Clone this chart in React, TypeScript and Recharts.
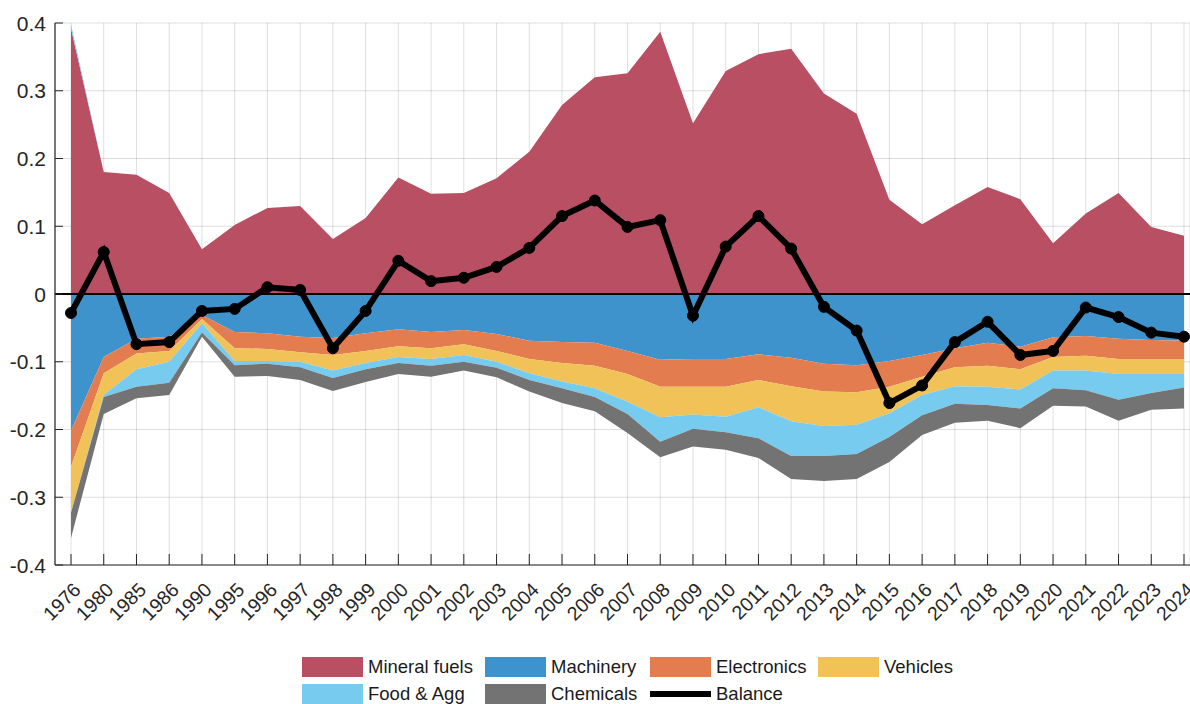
import {
  ComposedChart,
  Area,
  Line,
  XAxis,
  YAxis,
  CartesianGrid,
  ReferenceLine,
  Legend,
} from "recharts";

const years = [
  "1976", "1980", "1985", "1986", "1990",
  "1995", "1996", "1997", "1998", "1999", "2000", "2001", "2002", "2003", "2004",
  "2005", "2006", "2007", "2008", "2009", "2010", "2011", "2012", "2013", "2014",
  "2015", "2016", "2017", "2018", "2019", "2020", "2021", "2022", "2023", "2024",
];

const mineralFuels = [
  0.392, 0.18, 0.176, 0.149, 0.066,
  0.102, 0.127, 0.13, 0.081, 0.112, 0.172, 0.148, 0.149, 0.171, 0.21,
  0.279, 0.32, 0.326, 0.387, 0.252, 0.329, 0.354, 0.362, 0.296, 0.266,
  0.139, 0.103, 0.131, 0.158, 0.14, 0.075, 0.119, 0.149, 0.099, 0.086,
];

const machinery = [
  -0.202, -0.093, -0.066, -0.063, -0.031,
  -0.056, -0.058, -0.063, -0.065, -0.058, -0.052, -0.056, -0.053, -0.059, -0.069,
  -0.071, -0.072, -0.084, -0.097, -0.096, -0.096, -0.089, -0.094, -0.103, -0.105,
  -0.099, -0.09, -0.08, -0.072, -0.078, -0.064, -0.062, -0.066, -0.068, -0.069,
];

const electronics = [
  -0.053, -0.024, -0.022, -0.021, -0.006,
  -0.024, -0.023, -0.023, -0.025, -0.026, -0.025, -0.024, -0.021, -0.025, -0.027,
  -0.031, -0.034, -0.034, -0.04, -0.041, -0.041, -0.038, -0.042, -0.041, -0.04,
  -0.038, -0.032, -0.028, -0.034, -0.033, -0.029, -0.029, -0.03, -0.028, -0.027,
];

const vehicles = [
  -0.068, -0.032, -0.023, -0.016, -0.006,
  -0.019, -0.018, -0.014, -0.023, -0.018, -0.016, -0.016, -0.016, -0.016, -0.021,
  -0.027, -0.033, -0.041, -0.045, -0.041, -0.044, -0.04, -0.052, -0.051, -0.048,
  -0.039, -0.027, -0.028, -0.031, -0.03, -0.02, -0.022, -0.022, -0.022, -0.022,
];

const foodAgg = [
  0.006, -0.003, -0.026, -0.031, -0.014,
  -0.006, -0.004, -0.008, -0.011, -0.009, -0.009, -0.01, -0.01, -0.009, -0.01,
  -0.01, -0.013, -0.018, -0.036, -0.021, -0.023, -0.046, -0.051, -0.044, -0.043,
  -0.035, -0.03, -0.026, -0.027, -0.028, -0.026, -0.029, -0.038, -0.028, -0.02,
];

const chemicals = [
  -0.037, -0.025, -0.017, -0.018, -0.006,
  -0.017, -0.018, -0.019, -0.019, -0.019, -0.016, -0.016, -0.013, -0.014, -0.017,
  -0.022, -0.021, -0.028, -0.023, -0.026, -0.026, -0.029, -0.034, -0.037, -0.037,
  -0.037, -0.029, -0.028, -0.023, -0.029, -0.026, -0.024, -0.031, -0.025, -0.031,
];

const balance = [
  -0.028, 0.062, -0.074, -0.071, -0.025,
  -0.022, 0.01, 0.006, -0.08, -0.025, 0.049, 0.019, 0.024, 0.04, 0.068,
  0.115, 0.138, 0.099, 0.109, -0.032, 0.07, 0.115, 0.067, -0.019, -0.054,
  -0.161, -0.135, -0.071, -0.041, -0.09, -0.084, -0.02, -0.034, -0.057, -0.063,
];

const yTicks = [-0.4, -0.3, -0.2, -0.1, 0, 0.1, 0.2, 0.3, 0.4];

const COLORS = {
  mineral: "#b84f62",
  machinery: "#3e93cd",
  electronics: "#e37d50",
  vehicles: "#f0c257",
  food: "#77cbef",
  chemicals: "#737373",
};

const FONT = "'Liberation Sans', Arial, Helvetica, sans-serif";
const AXIS = "#262626";

// food & agg is positive in 1976 only, so it is split over the two stacks
const data = years.map((year, i) => ({
  year,
  mineral: mineralFuels[i],
  foodPos: Math.max(foodAgg[i], 0),
  machinery: machinery[i],
  electronics: electronics[i],
  vehicles: vehicles[i],
  foodNeg: Math.min(foodAgg[i], 0),
  chemicals: chemicals[i],
  balance: balance[i],
}));

function XTick({ x, y, payload }: any) {
  return (
    <g>
      <line x1={x} x2={x} y1={y} y2={y - 11} stroke={AXIS} strokeWidth={1} />
      <text
        x={x + 11}
        y={y + 26}
        transform={`rotate(-45 ${x + 11} ${y + 26})`}
        textAnchor="end"
        fontSize={19.5}
        fontFamily={FONT}
        fill={AXIS}
      >
        {payload.value}
      </text>
    </g>
  );
}

function YTick({ x, y, payload }: any) {
  const v = payload.value;
  const label = Math.abs(v) < 1e-9 ? "0" : v.toFixed(1);
  return (
    <g>
      <line x1={x} x2={x + 8} y1={y} y2={y} stroke={AXIS} strokeWidth={1} />
      <text
        x={x - 9}
        y={y}
        dy="0.36em"
        textAnchor="end"
        fontSize={21}
        fontFamily={FONT}
        fill={AXIS}
      >
        {label}
      </text>
    </g>
  );
}

const LEGEND_ITEMS = [
  { label: "Mineral fuels", color: COLORS.mineral, left: 302, top: 12 },
  { label: "Machinery", color: COLORS.machinery, left: 485, top: 12 },
  { label: "Electronics", color: COLORS.electronics, left: 650, top: 12 },
  { label: "Vehicles", color: COLORS.vehicles, left: 818, top: 12 },
  { label: "Food & Agg", color: COLORS.food, left: 302, top: 39 },
  { label: "Chemicals", color: COLORS.chemicals, left: 485, top: 39 },
  { label: "Balance", color: "#000", left: 650, top: 39, line: true },
];

function renderLegend() {
  return (
    <div style={{ position: "relative", width: 1190, height: 59, fontFamily: FONT }}>
      {LEGEND_ITEMS.map((it) => (
        <div key={it.label}>
          <div
            style={{
              position: "absolute",
              left: it.left,
              top: it.line ? it.top + 7 : it.top,
              width: 61,
              height: it.line ? 6 : 20,
              background: it.color,
            }}
          />
          <div
            style={{
              position: "absolute",
              left: it.left + 66,
              top: it.top - 1,
              lineHeight: "22px",
              fontSize: 18.5,
              color: "#1a1a1a",
              whiteSpace: "nowrap",
            }}
          >
            {it.label}
          </div>
        </div>
      ))}
    </div>
  );
}

export default function App() {
  return (
    <div style={{ position: "absolute", left: 0, top: 0, width: 1190, height: 704, background: "#fff" }}>
      <ComposedChart
        width={1190}
        height={704}
        data={data}
        margin={{ top: 23, right: 0, left: 0, bottom: 0 }}
      >
        <XAxis
          dataKey="year"
          scale="point"
          padding={{ left: 16, right: 6 }}
          interval={0}
          height={80}
          tickSize={0}
          tickMargin={0}
          tickLine={false}
          axisLine={{ stroke: AXIS, strokeWidth: 1.2 }}
          tick={<XTick />}
        />
        <YAxis
          domain={[-0.4, 0.4]}
          ticks={yTicks}
          width={55}
          tickSize={0}
          tickMargin={0}
          tickLine={false}
          axisLine={{ stroke: AXIS, strokeWidth: 1.2 }}
          tick={<YTick />}
          allowDataOverflow
        />
        <Area stackId="pos" dataKey="mineral" type="linear" fill={COLORS.mineral} fillOpacity={1} stroke="none" isAnimationActive={false} activeDot={false} />
        <Area stackId="pos" dataKey="foodPos" type="linear" fill={COLORS.food} fillOpacity={1} stroke="none" isAnimationActive={false} activeDot={false} legendType="none" />
        <Area stackId="neg" dataKey="machinery" type="linear" fill={COLORS.machinery} fillOpacity={1} stroke="none" isAnimationActive={false} activeDot={false} />
        <Area stackId="neg" dataKey="electronics" type="linear" fill={COLORS.electronics} fillOpacity={1} stroke="none" isAnimationActive={false} activeDot={false} />
        <Area stackId="neg" dataKey="vehicles" type="linear" fill={COLORS.vehicles} fillOpacity={1} stroke="none" isAnimationActive={false} activeDot={false} />
        <Area stackId="neg" dataKey="foodNeg" type="linear" fill={COLORS.food} fillOpacity={1} stroke="none" isAnimationActive={false} activeDot={false} />
        <Area stackId="neg" dataKey="chemicals" type="linear" fill={COLORS.chemicals} fillOpacity={1} stroke="none" isAnimationActive={false} activeDot={false} />
        <CartesianGrid stroke="#000" strokeOpacity={0.13} strokeWidth={1} />
        <ReferenceLine y={0} stroke="#000" strokeWidth={2} />
        <Line
          dataKey="balance"
          type="linear"
          stroke="#000"
          strokeWidth={6}
          dot={{ r: 5.5, fill: "#000", stroke: "#000", strokeWidth: 1 }}
          activeDot={false}
          isAnimationActive={false}
        />
        <Legend verticalAlign="bottom" content={renderLegend} wrapperStyle={{ left: 0, bottom: 0, width: 1190, height: 59 }} />
      </ComposedChart>
    </div>
  );
}
